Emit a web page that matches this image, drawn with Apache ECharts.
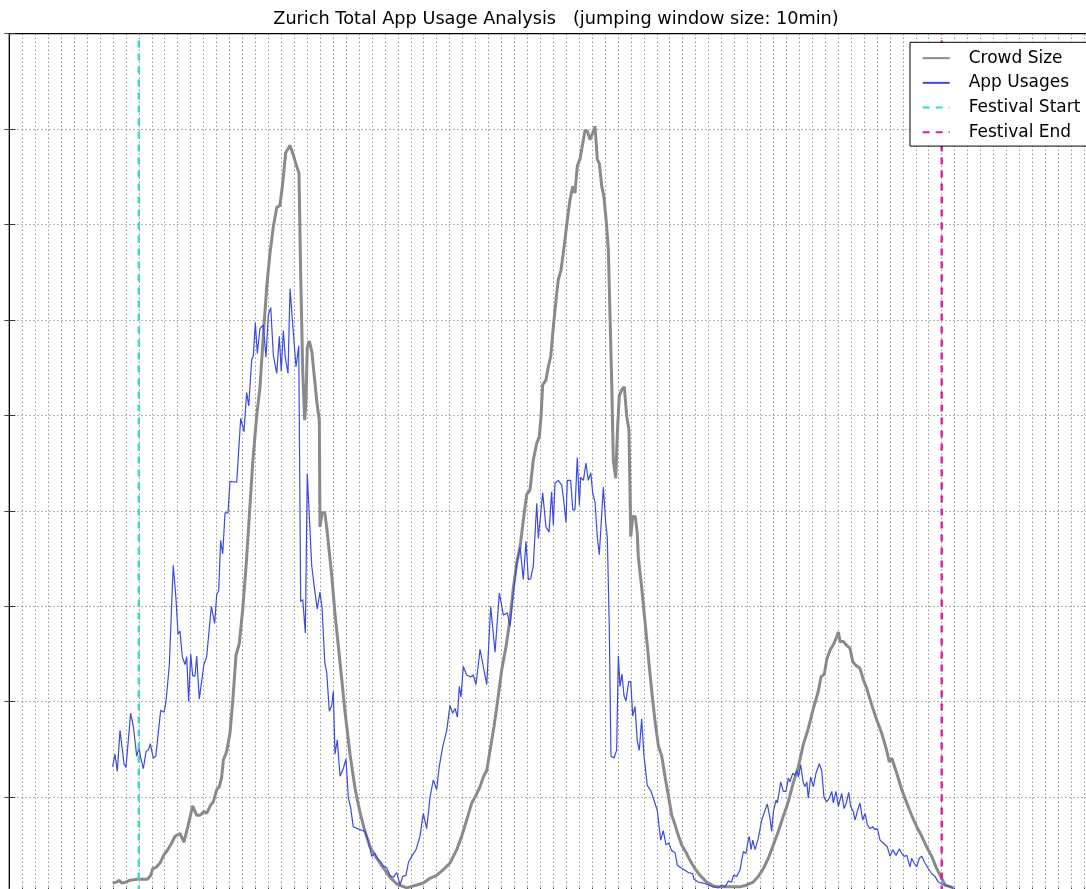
<!DOCTYPE html>
<html>
<head>
<meta charset="utf-8">
<script src="https://cdn.jsdelivr.net/npm/echarts@6/dist/echarts.min.js"></script>
<style>
  html, body { margin: 0; padding: 0; background: #ffffff; overflow: hidden; }
  /* the axes box runs past the right and bottom edges of the window */
  #chart { width: 1120px; height: 910px; }
</style>
</head>
<body>
<div id="chart"></div>
<script>
// Hours since midnight of the first day, aggregated in 10-minute jumping windows.
// Values are counts in hundreds of units of the left axis (ticks every 100).

const chartTitle = 'Zurich Total App Usage Analysis   (jumping window size: 10min)';
const seriesNames = ['Crowd Size', 'App Usages', 'Festival Start', 'Festival End'];

const festivalStart = 10;
const festivalEnd = 72;

const hourTicks = { min: 0, max: 84, step: 1 };
const countTicks = { min: 0, max: 900, step: 100 };

// [hour, crowd size]
const crowdSize = [
  [7.98,10],[8.29,11],[8.49,13],[8.68,10],[9.01,11],[9.32,13],[9.84,14],[10.35,14],[10.66,14],[10.92,18],
  [11.07,25],[11.38,27],[11.64,31],[11.95,40],[12.15,43],[12.54,52],[12.80,59],[13.18,62],[13.49,53],[13.82,71],
  [14.16,91],[14.47,81],[14.73,81],[15.03,85],[15.24,83],[15.55,92],[15.75,95],[16.02,108],[16.22,111],[16.40,121],
  [16.53,139],[16.79,148],[17.04,167],[17.25,200],[17.51,249],[17.76,261],[18.02,296],[18.28,341],[18.53,394],[18.80,451],
  [19.10,499],[19.36,530],[19.61,583],[19.88,635],[20.13,670],[20.39,698],[20.65,718],[20.90,720],[21.11,743],[21.34,775],
  [21.68,783],[21.93,773],[22.19,761],[22.37,754],[22.50,647],[22.66,546],[22.81,495],[22.91,515],[23.01,571],[23.17,578],
  [23.37,566],[23.74,515],[23.94,495],[23.99,383],[24.15,398],[24.36,398],[24.51,383],[24.90,332],[25.15,292],[25.54,241],
  [25.92,190],[26.31,145],[26.70,109],[27.08,84],[27.47,64],[27.85,48],[28.37,36],[28.88,26],[29.40,16],[29.92,9],
  [30.69,5],[31.46,8],[31.97,10],[32.49,15],[33.00,18],[33.51,24],[34.03,31],[34.55,45],[34.93,59],[35.32,76],
  [35.71,94],[36.04,102],[36.35,111],[36.60,121],[36.87,128],[37.12,149],[37.43,174],[37.68,198],[38.02,233],[38.36,258],
  [38.66,286],[38.92,319],[39.18,345],[39.44,362],[39.69,390],[39.95,417],[40.21,422],[40.46,453],[40.73,471],[40.93,478],
  [41.06,499],[41.19,532],[41.44,537],[41.62,551],[41.81,562],[42.01,593],[42.27,628],[42.39,642],[42.60,652],[42.91,684],
  [43.09,705],[43.30,726],[43.51,740],[43.68,733],[43.86,761],[44.07,769],[44.28,785],[44.46,799],[44.63,798],[44.84,789],
  [45.05,796],[45.23,803],[45.41,768],[45.56,764],[45.75,740],[45.92,729],[46.13,698],[46.26,673],[46.39,603],[46.52,534],
  [46.64,453],[46.83,434],[46.95,481],[47.10,520],[47.29,527],[47.49,530],[47.68,499],[47.85,485],[47.99,373],[48.14,394],
  [48.34,394],[48.49,377],[48.57,352],[48.83,320],[49.09,284],[49.34,248],[49.61,211],[49.86,180],[50.12,154],[50.38,143],
  [50.63,122],[50.89,102],[51.15,81],[51.41,71],[51.66,60],[51.92,50],[52.26,42],[52.56,34],[52.95,25],[53.34,18],
  [53.85,11],[54.36,7],[54.88,6],[55.91,6],[56.43,6],[56.94,8],[57.45,11],[57.84,17],[58.22,25],[58.61,36],
  [59.00,50],[59.38,64],[59.77,80],[60.15,95],[60.54,115],[60.93,132],[61.31,155],[61.70,172],[62.09,193],[62.47,211],
  [62.68,226],[62.94,229],[63.12,244],[63.37,254],[63.68,261],[63.89,268],[64.02,273],[64.15,263],[64.40,263],[64.66,259],
  [64.92,256],[65.13,242],[65.38,238],[65.69,235],[65.95,223],[66.21,214],[66.59,197],[66.98,181],[67.37,167],[67.75,149],
  [67.95,137],[68.14,141],[68.53,125],[68.91,108],[69.30,94],[69.68,81],[70.07,69],[70.46,59],[70.84,48],[71.23,38],
  [71.62,25],[71.92,17],[72.26,8],[72.90,5]
];

// [hour, app usages]
const appUsages = [
  [7.98,132],[8.16,145],[8.34,127],[8.55,170],[8.70,171],[8.86,135],[9.01,131],[9.37,188],[9.58,174],[9.84,143],
  [10.02,152],[10.15,141],[10.35,130],[10.56,148],[10.76,150],[10.89,156],[11.12,141],[11.31,143],[11.69,191],[11.95,189],
  [12.10,200],[12.36,239],[12.51,292],[12.66,343],[12.87,308],[13.03,271],[13.18,274],[13.36,247],[13.57,239],[13.70,247],
  [13.85,200],[14.01,250],[14.16,227],[14.34,227],[14.47,248],[14.67,203],[14.83,219],[15.01,238],[15.24,247],[15.60,300],
  [15.86,282],[16.02,313],[16.17,316],[16.32,369],[16.48,355],[16.66,398],[16.89,398],[17.04,431],[17.56,430],[17.87,497],
  [18.12,483],[18.33,524],[18.49,510],[18.72,559],[18.84,562],[19.00,597],[19.15,565],[19.36,591],[19.61,595],[19.82,561],
  [20.00,605],[20.19,613],[20.39,563],[20.65,544],[20.85,583],[21.00,546],[21.16,589],[21.31,561],[21.52,544],[21.68,633],
  [21.88,596],[22.14,551],[22.35,573],[22.50,305],[22.66,307],[22.86,272],[23.01,439],[23.17,393],[23.35,343],[23.58,317],
  [23.78,297],[23.99,315],[24.15,299],[24.36,241],[24.51,231],[24.71,190],[24.90,196],[25.02,211],[25.15,145],[25.33,160],
  [25.54,122],[25.79,130],[26.00,140],[26.18,99],[26.36,89],[26.56,69],[27.08,66],[27.47,64],[27.72,54],[27.99,38],
  [28.24,41],[28.42,36],[28.63,33],[28.88,28],[29.14,26],[29.40,18],[29.65,16],[29.92,21],[30.17,8],[30.38,17],
  [30.63,18],[30.81,31],[31.07,38],[31.41,45],[31.71,59],[31.97,83],[32.23,67],[32.49,100],[32.74,118],[33.00,108],
  [33.20,132],[33.47,153],[33.78,170],[34.03,196],[34.24,188],[34.42,193],[34.60,184],[34.75,216],[34.88,205],[35.06,237],
  [35.32,228],[35.63,226],[35.83,228],[36.04,218],[36.35,255],[36.60,237],[36.87,218],[37.17,300],[37.51,252],[37.84,314],
  [38.15,291],[38.46,293],[38.66,279],[38.92,314],[39.23,349],[39.44,362],[39.69,328],[39.90,368],[40.08,328],[40.26,329],
  [40.46,342],[40.73,408],[40.85,371],[41.19,419],[41.44,383],[41.68,378],[41.88,420],[42.01,385],[42.14,429],[42.39,432],
  [42.66,427],[42.83,409],[42.99,388],[43.09,432],[43.35,432],[43.51,401],[43.68,401],[43.86,456],[44.02,406],[44.12,435],
  [44.33,432],[44.53,450],[44.71,432],[44.90,440],[45.05,419],[45.23,409],[45.41,372],[45.56,354],[45.69,354],[45.87,425],
  [46.05,388],[46.18,372],[46.33,279],[46.46,143],[46.70,141],[46.90,149],[47.03,248],[47.16,216],[47.31,229],[47.47,206],
  [47.62,201],[47.83,221],[47.99,221],[48.14,185],[48.32,195],[48.49,159],[48.65,149],[48.83,182],[49.01,143],[49.27,112],
  [49.53,107],[49.78,97],[50.04,86],[50.30,55],[50.50,65],[50.71,50],[50.92,52],[51.15,44],[51.41,42],[51.58,29],
  [51.85,26],[52.10,24],[52.43,21],[52.56,19],[52.77,20],[52.87,14],[53.21,11],[53.59,10],[53.98,8],[54.36,6],
  [54.75,5],[55.01,8],[55.27,6],[55.52,12],[55.78,11],[55.91,18],[56.17,17],[56.43,24],[56.68,43],[56.89,41],
  [57.02,52],[57.14,59],[57.28,45],[57.41,55],[57.59,45],[57.84,57],[58.10,76],[58.28,83],[58.53,93],[58.74,78],
  [58.87,64],[59.00,85],[59.21,97],[59.31,94],[59.46,106],[59.57,116],[59.77,106],[59.98,106],[60.15,120],[60.29,116],
  [60.49,125],[60.67,123],[60.85,128],[60.93,121],[61.11,134],[61.31,115],[61.45,111],[61.58,116],[61.70,99],[61.88,121],
  [62.09,111],[62.29,125],[62.55,135],[62.73,128],[62.91,100],[63.12,95],[63.32,99],[63.51,106],[63.63,94],[63.84,106],
  [64.02,90],[64.28,104],[64.46,88],[64.66,95],[64.82,105],[64.97,90],[65.17,85],[65.31,76],[65.48,85],[65.69,94],
  [65.90,76],[66.08,83],[66.26,71],[66.46,67],[66.67,69],[66.85,66],[67.03,67],[67.24,55],[67.49,52],[67.80,48],
  [68.01,38],[68.22,45],[68.47,39],[68.73,46],[68.91,41],[69.09,38],[69.30,39],[69.55,27],[69.68,36],[69.86,31],
  [70.07,27],[70.27,36],[70.46,38],[70.71,31],[70.97,25],[71.23,20],[71.48,17],[71.74,11],[72.00,9],[72.39,7],
  [72.77,6],[72.90,4]
];

const FONT = 'DejaVu Sans';
const dotted = { color: 'rgba(0,0,0,0.5)', width: 1, type: [1.2, 2.8] };

function valueAxis(extra, ticks) {
  return Object.assign({
    type: 'value',
    min: ticks.min,
    max: ticks.max,
    interval: ticks.step,
    axisLine: { show: false },
    axisLabel: { show: false },
    axisTick: { show: true, inside: true, length: 5, lineStyle: { color: '#444', width: 1 } },
    splitLine: { show: false }
  }, extra);
}

// plain line series: no point markers, and no marker in the legend swatch either
function lineSeries(name, data, color, width, dash, z) {
  return {
    name: name,
    type: 'line',
    data: data,
    symbol: 'none',
    lineStyle: { color: color, width: width, type: dash || 'solid' },
    itemStyle: { color: 'rgba(0,0,0,0)', borderWidth: 0, opacity: 0 },
    emphasis: { disabled: true },
    z: z
  };
}

const chart = echarts.init(document.getElementById('chart'), null, { renderer: 'canvas' });

chart.setOption({
  animation: false,
  backgroundColor: '#ffffff',
  title: {
    text: chartTitle,
    left: 551,
    top: 5,
    textAlign: 'center',
    textStyle: { fontFamily: FONT, fontSize: 17.7, fontWeight: 'normal', color: '#000' }
  },
  grid: {
    show: true,
    left: 9.3,
    top: 33.7,
    width: 1087.8,
    height: 858.9,
    borderColor: '#000',
    borderWidth: 1.3,
    backgroundColor: 'transparent'
  },
  xAxis: [
    valueAxis({ position: 'bottom', splitLine: { show: true, lineStyle: dotted } }, hourTicks),
    valueAxis({ position: 'top' }, hourTicks)
  ],
  yAxis: [
    valueAxis({ position: 'left', axisTick: { show: true, inside: true, length: 6, lineStyle: { color: '#333', width: 1 } },
                splitLine: { show: true, lineStyle: dotted } }, countTicks),
    valueAxis({ position: 'right' }, countTicks)
  ],
  legend: {
    z: 20,
    orient: 'vertical',
    left: 910,
    top: 42.3,
    padding: [3.5, 14, 1.5, 11.7],
    itemWidth: 27,
    itemHeight: 14,
    itemGap: 0,
    backgroundColor: '#ffffff',
    borderColor: '#000',
    borderWidth: 1,
    borderRadius: 0,
    selectedMode: false,
    itemStyle: { color: 'rgba(0,0,0,0)', borderColor: 'rgba(0,0,0,0)', borderWidth: 0, opacity: 0 },
    data: seriesNames,
    textStyle: { fontFamily: FONT, fontSize: 17, color: '#000', lineHeight: 24.7, padding: [0, 0, 0, 14] }
  },
  series: [
    lineSeries(seriesNames[0], crowdSize, '#8a8a8a', 3, null, 2),
    lineSeries(seriesNames[1], appUsages, '#3b4ae0', 1.2, null, 3),
    lineSeries(seriesNames[2], [[festivalStart, countTicks.min], [festivalStart, countTicks.max]], '#3dd6cc', 2.4, [7, 6], 4),
    lineSeries(seriesNames[3], [[festivalEnd, countTicks.min], [festivalEnd, countTicks.max]], '#d81ea8', 2.4, [7, 6], 4)
  ]
});
</script>
</body>
</html>
